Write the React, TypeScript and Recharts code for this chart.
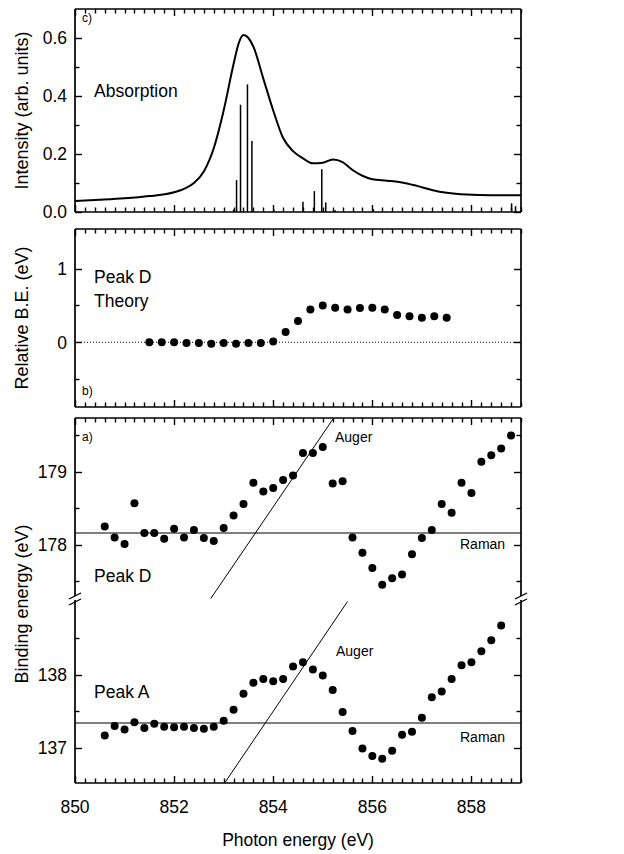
import React from 'react';
import { ComposedChart, Line, Scatter, XAxis, YAxis, ReferenceLine } from 'recharts';

const FONT = '"Liberation Sans", Arial, Helvetica, sans-serif';
const W = 624;
const PLOT_RIGHT = 521;
const RIGHT_MARGIN = W - PLOT_RIGHT - 1;
const FS = 17.5;
const FT = 18;
const TICK_W = 1.4;

// ---- shared x axis ----
const X_DOMAIN: [number, number] = [850, 859];
const X_MAJOR = [850, 852, 854, 856, 858];
const X_TICKS = Array.from({ length: 46 }, (_, i) => Math.round((850 + i * 0.2) * 10) / 10);

// ---- panel c: absorption ----
const absEnergy = [850.0, 850.5, 851.0, 851.5, 852.0, 852.2, 852.4, 852.6, 852.8, 853.0, 853.2, 853.3, 853.4, 853.5, 853.6, 853.8, 854.0, 854.2, 854.4, 854.6, 854.8, 855.0, 855.2, 855.4, 855.6, 855.8, 856.0, 856.3, 856.6, 856.9, 857.2, 857.5, 857.9, 858.4, 859.0];
const absIntensity = [0.038, 0.042, 0.047, 0.055, 0.068, 0.08, 0.1, 0.14, 0.22, 0.35, 0.51, 0.58, 0.61, 0.6, 0.57, 0.46, 0.35, 0.255, 0.21, 0.185, 0.168, 0.17, 0.181, 0.172, 0.145, 0.125, 0.113, 0.108, 0.102, 0.09, 0.076, 0.066, 0.06, 0.058, 0.058];
const stickEnergy = [853.2, 853.26, 853.34, 853.48, 853.57, 854.01, 854.6, 854.83, 854.98, 855.06, 855.25, 856.02, 858.81, 858.89];
const stickHeight = [0.008, 0.11, 0.37, 0.44, 0.245, 0.01, 0.035, 0.072, 0.147, 0.033, 0.006, 0.01, 0.03, 0.02];
const C_YTICKS = [0, 0.1, 0.2, 0.3, 0.4, 0.5, 0.6];
const C_YMAJOR = [0, 0.2, 0.4, 0.6];

// ---- panel b: theory ----
const thEnergy = [851.5, 851.75, 852, 852.25, 852.5, 852.75, 853, 853.25, 853.5, 853.75, 854, 854.25, 854.5, 854.75, 855, 855.25, 855.5, 855.75, 856, 856.25, 856.5, 856.75, 857, 857.25, 857.5];
const thShift = [0, 0, 0, -0.01, -0.01, -0.02, -0.01, -0.02, -0.01, -0.01, 0.01, 0.14, 0.29, 0.445, 0.5, 0.47, 0.445, 0.465, 0.47, 0.445, 0.37, 0.355, 0.335, 0.355, 0.335];
const B_YTICKS = [-0.5, 0, 0.5, 1];
const B_YMAJOR = [0, 1];

// ---- panel a: binding energies ----
const peakDEnergy = [850.6, 850.8, 851.0, 851.2, 851.4, 851.6, 851.8, 852.0, 852.2, 852.4, 852.6, 852.8, 853.0, 853.2, 853.4, 853.6, 853.8, 854.0, 854.2, 854.4, 854.6, 854.8, 855.0, 855.2, 855.4, 855.6, 855.8, 856.0, 856.2, 856.4, 856.6, 856.8, 857.0, 857.2, 857.4, 857.6, 857.8, 858.0, 858.2, 858.4, 858.6, 858.8];
const peakD = [178.25, 178.1, 178.01, 178.57, 178.16, 178.16, 178.08, 178.22, 178.1, 178.2, 178.09, 178.05, 178.23, 178.4, 178.56, 178.85, 178.73, 178.78, 178.89, 178.95, 179.26, 179.26, 179.34, 178.84, 178.87, 178.1, 177.89, 177.68, 177.45, 177.54, 177.59, 177.87, 178.09, 178.2, 178.56, 178.44, 178.85, 178.71, 179.14, 179.23, 179.32, 179.5];
const peakAEnergy = [850.6, 850.8, 851.0, 851.2, 851.4, 851.6, 851.8, 852.0, 852.2, 852.4, 852.6, 852.8, 853.0, 853.2, 853.4, 853.6, 853.8, 854.0, 854.2, 854.4, 854.6, 854.8, 855.0, 855.2, 855.4, 855.6, 855.8, 856.0, 856.2, 856.4, 856.6, 856.8, 857.0, 857.2, 857.4, 857.6, 857.8, 858.0, 858.2, 858.4, 858.6];
const peakA = [137.17, 137.3, 137.25, 137.35, 137.27, 137.33, 137.29, 137.28, 137.29, 137.27, 137.26, 137.29, 137.37, 137.52, 137.74, 137.89, 137.94, 137.91, 137.94, 138.11, 138.17, 138.07, 137.99, 137.79, 137.49, 137.23, 136.99, 136.89, 136.85, 136.96, 137.18, 137.22, 137.41, 137.69, 137.77, 137.94, 138.13, 138.17, 138.32, 138.47, 138.67];
const ramanD = 178.16;
const ramanA = 137.34;
const augerD = [{ x: 852.74, y: 177.26 }, { x: 855.22, y: 179.74 }];
const augerA = [{ x: 853.02, y: 136.52 }, { x: 855.5, y: 139.0 }];
const UP_DOMAIN: [number, number] = [177.24, 179.74];
const LO_DOMAIN: [number, number] = [136.52, 139.02];
const UP_TICKS = [177.5, 178, 178.5, 179, 179.5];
const UP_MAJOR = [178, 179];
const LO_TICKS = [137, 137.5, 138, 138.5];
const LO_MAJOR = [137, 138];

const absRows = absEnergy.map((e, i) => ({ e, v: absIntensity[i] }));
const thRows = thEnergy.map((x, i) => ({ x, y: thShift[i] }));
const dRows = peakDEnergy.map((x, i) => ({ x, y: peakD[i] }));
const aRows = peakAEnergy.map((x, i) => ({ x, y: peakA[i] }));

function SText({ x, y, size, anchor = 'start', rotate = false, children }: any) {
  const t = rotate ? `translate(${x},${y}) rotate(-90)` : `translate(${x},${y})`;
  return (
    <text transform={t} x={0} y={0} fontSize={size} fontFamily={FONT} textAnchor={anchor} fill="#000">
      {children}
    </text>
  );
}

const isMajor = (v: number, majors: number[]) => majors.some((m) => Math.abs(m - v) < 1e-6);

// y axes: inward tick marks plus labels on the left side
function makeYTick(side: 'left' | 'right', majors: number[], fmt?: (v: number) => string) {
  return (props: any) => {
    const x = Number(props.x);
    const y = Number(props.y);
    const v = Number(props.payload.value);
    const major = isMajor(v, majors);
    const len = major ? 7 : 4.5;
    const py = Math.round(y) + 0.5;
    const x2 = side === 'left' ? x + len : x - len;
    return (
      <g>
        <line x1={x} y1={py} x2={x2} y2={py} stroke="#000" strokeWidth={TICK_W} />
        {fmt && major ? (
          <SText x={x - 8} y={y + 6.3} size={FS} anchor="end">{fmt(v)}</SText>
        ) : null}
      </g>
    );
  };
}

// x axis: labels only (tick marks are drawn as short reference lines)
function makeXLabel(fmt?: (v: number) => string) {
  return (props: any) => {
    const v = Number(props.payload.value);
    if (!fmt || !isMajor(v, X_MAJOR)) return <g />;
    return <SText x={Number(props.x)} y={Number(props.y) + 30} size={FS} anchor="middle">{fmt(v)}</SText>;
  };
}

function xTickMarks(xId: string, yId: string, top: boolean, bottom: boolean) {
  return X_TICKS.map((v) => {
    const len = isMajor(v, X_MAJOR) ? 7 : 4.5;
    const shape = (p: any) => {
      const x = Math.round(Number(p.x1)) + 0.5;
      const yb = Math.max(Number(p.y1), Number(p.y2));
      const yt = Math.min(Number(p.y1), Number(p.y2));
      return (
        <g>
          {bottom ? <line x1={x} x2={x} y1={yb} y2={yb - len} stroke="#000" strokeWidth={TICK_W} /> : null}
          {top ? <line x1={x} x2={x} y1={yt} y2={yt + len} stroke="#000" strokeWidth={TICK_W} /> : null}
        </g>
      );
    };
    return <ReferenceLine key={`xt-${v}`} xAxisId={xId} yAxisId={yId} x={v} shape={shape} />;
  });
}

const AXIS_LINE = { stroke: '#000', strokeWidth: 1.7 };
const blank = () => '';
const common = {
  tickSize: 0,
  tickMargin: 0,
  tickLine: false,
  interval: 0 as const,
  minTickGap: 0,
  tickFormatter: blank,
  axisLine: AXIS_LINE,
  allowDataOverflow: true,
  type: 'number' as const,
};

const dotShape = (p: any) => <circle cx={p.cx} cy={p.cy} r={4} fill="#000" />;

function BreakMark({ x, y }: { x: number; y: number }) {
  return (
    <g>
      <rect x={x - 5} y={y - 4} width={10} height={6} fill="#fff" />
      <line x1={x - 6} y1={y - 1} x2={x + 6} y2={y - 7} stroke="#000" strokeWidth={1.3} />
      <line x1={x - 6} y1={y + 5} x2={x + 6} y2={y - 1} stroke="#000" strokeWidth={1.3} />
    </g>
  );
}

export default function App() {
  return (
    <div style={{ position: 'absolute', left: 0, top: 0, width: W, height: 854, background: '#fff' }}>
      {/* panel c */}
      <div style={{ position: 'absolute', left: 0, top: 0 }}>
        <ComposedChart width={W} height={232} data={absRows} margin={{ top: 8, right: RIGHT_MARGIN, bottom: 19, left: 0 }}>
          <XAxis xAxisId="b" dataKey="e" domain={X_DOMAIN} ticks={X_TICKS} height={1} tick={makeXLabel()} {...common} />
          <XAxis xAxisId="t" orientation="top" domain={X_DOMAIN} ticks={X_TICKS} height={1} tick={makeXLabel()} {...common} />
          <YAxis yAxisId="l" domain={[0, 0.7]} ticks={C_YTICKS} width={75} tick={makeYTick('left', C_YMAJOR, (v) => v.toFixed(1))} {...common} />
          <YAxis yAxisId="r" orientation="right" domain={[0, 0.7]} ticks={C_YTICKS} width={1} tick={makeYTick('right', C_YMAJOR)} {...common} />
          {xTickMarks('b', 'l', true, true)}
          {stickEnergy.map((e, i) => (
            <ReferenceLine key={i} xAxisId="b" yAxisId="l" segment={[{ x: e, y: 0 }, { x: e, y: stickHeight[i] }]} stroke="#000" strokeWidth={1.5} />
          ))}
          <Line xAxisId="b" yAxisId="l" dataKey="v" type="monotone" dot={false} stroke="#000" strokeWidth={2} isAnimationActive={false} />
          <SText x={28} y={110.5} size={FT} anchor="middle" rotate>Intensity (arb. units)</SText>
          <SText x={82} y={22} size={12}>c)</SText>
          <SText x={94} y={97} size={FS}>Absorption</SText>
        </ComposedChart>
      </div>

      {/* panel b */}
      <div style={{ position: 'absolute', left: 0, top: 222 }}>
        <ComposedChart width={W} height={190} margin={{ top: 6, right: RIGHT_MARGIN, bottom: 4, left: 0 }}>
          <XAxis xAxisId="b" dataKey="x" domain={X_DOMAIN} ticks={X_TICKS} height={1} tick={makeXLabel()} {...common} />
          <XAxis xAxisId="t" orientation="top" domain={X_DOMAIN} ticks={X_TICKS} height={1} tick={makeXLabel()} {...common} />
          <YAxis yAxisId="l" dataKey="y" domain={[-0.88, 1.54]} ticks={B_YTICKS} width={75} tick={makeYTick('left', B_YMAJOR, (v) => String(v))} {...common} />
          <YAxis yAxisId="r" orientation="right" domain={[-0.88, 1.54]} ticks={B_YTICKS} width={1} tick={makeYTick('right', B_YMAJOR)} {...common} />
          {xTickMarks('b', 'l', true, true)}
          <ReferenceLine xAxisId="b" yAxisId="l" y={0} stroke="#000" strokeWidth={1} strokeDasharray="1 2" />
          <Scatter xAxisId="b" yAxisId="l" data={thRows} dataKey="y" shape={dotShape} isAnimationActive={false} />
          <SText x={28} y={96} size={FT} anchor="middle" rotate>Relative B.E. (eV)</SText>
          <SText x={94} y={61} size={FS}>Peak D</SText>
          <SText x={94} y={85} size={FS}>Theory</SText>
          <SText x={82} y={173} size={12}>b)</SText>
        </ComposedChart>
      </div>

      {/* panel a, upper part (Peak D) */}
      <div style={{ position: 'absolute', left: 0, top: 412 }}>
        <ComposedChart width={W} height={188} margin={{ top: 5, right: RIGHT_MARGIN, bottom: 0, left: 0 }}>
          <XAxis xAxisId="t" orientation="top" dataKey="x" domain={X_DOMAIN} ticks={X_TICKS} height={1} tick={makeXLabel()} {...common} />
          <YAxis yAxisId="l" dataKey="y" domain={UP_DOMAIN} ticks={UP_TICKS} width={75} tick={makeYTick('left', UP_MAJOR, (v) => String(v))} {...common} />
          <YAxis yAxisId="r" orientation="right" domain={UP_DOMAIN} ticks={UP_TICKS} width={1} tick={makeYTick('right', UP_MAJOR)} {...common} />
          {xTickMarks('t', 'l', true, false)}
          <ReferenceLine xAxisId="t" yAxisId="l" y={ramanD} stroke="#000" strokeWidth={1.2} />
          <ReferenceLine xAxisId="t" yAxisId="l" segment={augerD} stroke="#000" strokeWidth={1} />
          <Scatter xAxisId="t" yAxisId="l" data={dRows} dataKey="y" shape={dotShape} isAnimationActive={false} />
          <SText x={82} y={29} size={12}>a)</SText>
          <SText x={335} y={30} size={14}>Auger</SText>
          <SText x={460} y={137} size={14}>Raman</SText>
          <SText x={94} y={170} size={FS}>Peak D</SText>
        </ComposedChart>
      </div>

      {/* panel a, lower part (Peak A) */}
      <div style={{ position: 'absolute', left: 0, top: 412 }}>
        <ComposedChart width={W} height={442} margin={{ top: 188, right: RIGHT_MARGIN, bottom: 1, left: 0 }}>
          <XAxis xAxisId="b" dataKey="x" domain={X_DOMAIN} ticks={X_TICKS} height={70} tick={makeXLabel((v) => String(v))} {...common} />
          <YAxis yAxisId="l" dataKey="y" domain={LO_DOMAIN} ticks={LO_TICKS} width={75} tick={makeYTick('left', LO_MAJOR, (v) => String(v))} {...common} />
          <YAxis yAxisId="r" orientation="right" domain={LO_DOMAIN} ticks={LO_TICKS} width={1} tick={makeYTick('right', LO_MAJOR)} {...common} />
          {xTickMarks('b', 'l', false, true)}
          <ReferenceLine xAxisId="b" yAxisId="l" y={ramanA} stroke="#000" strokeWidth={1.2} />
          <ReferenceLine xAxisId="b" yAxisId="l" segment={augerA} stroke="#000" strokeWidth={1} />
          <Scatter xAxisId="b" yAxisId="l" data={aRows} dataKey="y" shape={dotShape} isAnimationActive={false} />
          <BreakMark x={75} y={188} />
          <BreakMark x={521} y={188} />
          <SText x={28} y={192} size={FT} anchor="middle" rotate>Binding energy (eV)</SText>
          <SText x={336} y={244} size={14}>Auger</SText>
          <SText x={94} y={286} size={FS}>Peak A</SText>
          <SText x={460} y={330} size={14}>Raman</SText>
          <SText x={298} y={434} size={FS} anchor="middle">Photon energy (eV)</SText>
        </ComposedChart>
      </div>
    </div>
  );
}
